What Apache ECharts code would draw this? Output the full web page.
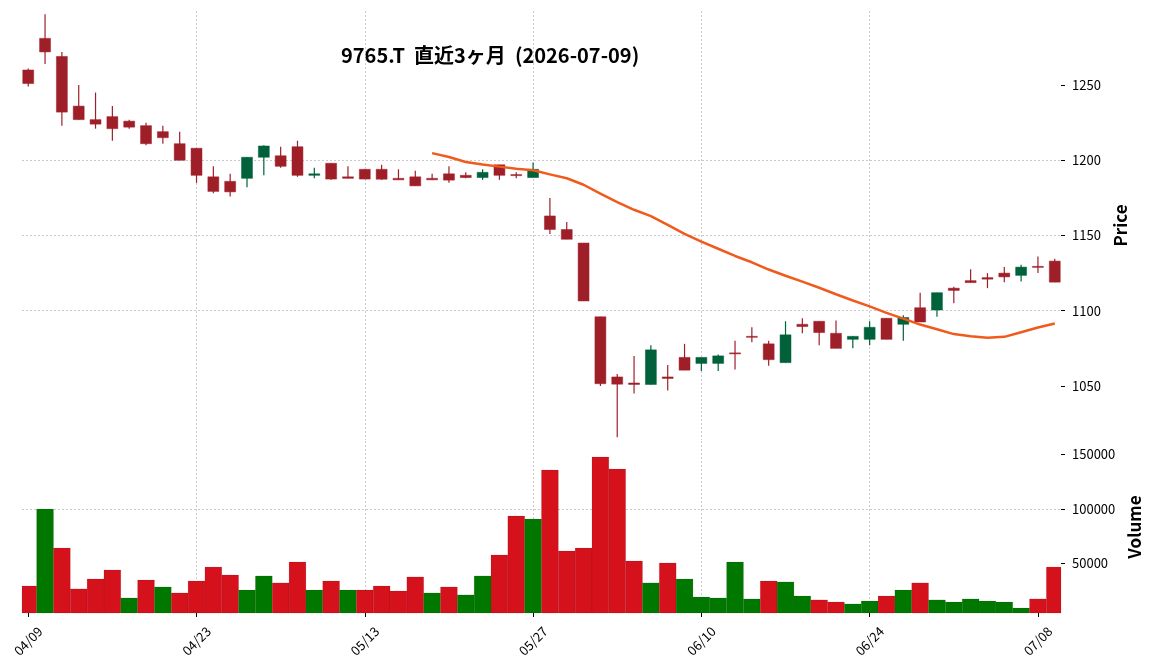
<!DOCTYPE html>
<html>
<head>
<meta charset="utf-8">
<script src="https://cdn.jsdelivr.net/npm/echarts@6/dist/echarts.min.js"></script>
<style>
  html, body { margin: 0; padding: 0; background: #fff; }
  #chart { width: 1152px; height: 670px; }
</style>
</head>
<body>
<div id="chart"></div>
<script>
// 9765.T 直近3ヶ月 日足
var dates = ['04/09','04/10','04/13','04/14','04/15','04/16','04/17','04/20','04/21','04/22',
  '04/23','04/24','04/27','04/28','04/30','05/01','05/07','05/08','05/11','05/12',
  '05/13','05/14','05/15','05/18','05/19','05/20','05/21','05/22','05/25','05/26',
  '05/27','05/28','05/29','06/01','06/02','06/03','06/04','06/05','06/08','06/09',
  '06/10','06/11','06/12','06/15','06/16','06/17','06/18','06/19','06/22','06/23',
  '06/24','06/25','06/26','06/29','06/30','07/01','07/02','07/03','07/06','07/07',
  '07/08','07/09'];
var opens = [1260,1281,1269,1236,1227,1229,1226,1223,1219,1211,
  1208,1189,1186,1188,1202,1203,1209,1190,1198,1189,
  1194,1194,1188,1189,1188,1191,1190,1188.5,1197,1190.5,
  1188.5,1163,1154,1145,1096,1056,1052,1051,1056,1069,
  1065,1065,1072,1083,1078,1065.5,1091,1093,1085,1081,
  1081,1095,1091,1102,1100.5,1115,1120,1122,1125,1123.5,
  1129.5,1133];
var highs = [1261,1297,1272,1250,1245,1236,1227,1225,1223,1219,
  1208,1196,1191,1202,1210,1209,1213,1195,1198,1196,
  1194,1197,1194,1193,1191,1196,1192,1194,1197,1192,
  1198.5,1175,1159,1145,1096,1058,1070,1077,1064,1078,
  1069,1071,1080,1089,1080,1093,1095,1093,1093.5,1083,
  1093,1095,1097,1112,1112,1116,1127.5,1125,1129,1130.5,
  1136,1134.5];
var lows = [1249,1264,1223,1227,1221,1213,1221,1210,1211,1200,
  1185,1178,1176,1182,1190,1195,1189,1188,1187,1188,
  1187.5,1187,1187,1183,1187,1185,1188,1187,1187,1188,
  1188.5,1151,1147.5,1106.5,1050,1016,1045,1051,1047,1060.5,
  1060,1060,1061,1079,1063.5,1065.5,1085,1077,1075,1075,
  1077,1081,1080,1092.5,1096,1105,1118.7,1115,1119,1119.5,
  1125,1119];
var closes = [1251,1272,1232,1227,1224,1221,1222,1211,1215,1200,
  1190,1179.3,1179,1202,1209.5,1196,1190,1191,1187.5,1188,
  1187.5,1187.4,1187,1183,1187,1186.8,1188.5,1192,1190,1189.8,
  1194,1154,1147.5,1106.5,1051.5,1051.2,1051,1074,1055,1060.5,
  1069,1070,1071.5,1082.5,1067.5,1084,1089.5,1085.5,1075,1083,
  1089,1081,1095.5,1092.5,1112,1113.5,1118.7,1121,1122.5,1129,
  1128.8,1119];
var volumes = [29200,99800,64100,26500,35600,43900,18200,34700,28300,22800,
  33800,46600,39300,25500,38400,32000,51200,25500,33800,25500,
  25500,29200,24600,37500,22800,28300,21000,38400,57600,93400,
  90700,135600,61300,64100,147600,136500,52100,32000,50300,35600,
  19100,18200,51200,17300,33800,32900,20000,16400,14500,12700,
  15400,20000,25500,32000,16400,14500,17300,15400,14500,9000,
  17300,46600];
var priceTicks = [1050, 1100, 1150, 1200, 1250];
var volumeTicks = [50000, 100000, 150000];
var dateTicks = [0, 10, 20, 30, 40, 50, 60];
var maDays = 25;

var UP = '#00613b', DOWN = '#9f1f29';
var VOL_UP = '#007800', VOL_DOWN = '#d5111c';
var gridLine = { color: '#bdbdbd', width: 0.8, type: [2, 2] };
var font = 'Noto Sans CJK JP';

var candleData = opens.map(function (o, i) { return [i, o, closes[i], lows[i], highs[i]]; });
// 出来高の色は前日終値との比較
var volData = volumes.map(function (v, i) {
  var up = i === 0 ? closes[0] >= opens[0] : closes[i] > closes[i - 1];
  return [i, v, up ? 1 : 0];
});
// 25日移動平均
var maData = [];
for (var i = maDays - 1; i < closes.length; i++) {
  var s = 0;
  for (var j = i - maDays + 1; j <= i; j++) s += closes[j];
  maData.push([i, s / maDays]);
}

var myChart = echarts.init(document.getElementById('chart'));

function renderCandle(params, api) {
  var x = api.value(0), o = api.value(1), c = api.value(2), l = api.value(3), h = api.value(4);
  var color = c >= o ? UP : DOWN;
  var pO = api.coord([x, o]), pC = api.coord([x, c]);
  var pL = api.coord([x, l]), pH = api.coord([x, h]);
  var w = api.size([1, 0])[0] * 0.65;
  var top = Math.min(pO[1], pC[1]);
  var bh = Math.max(Math.abs(pO[1] - pC[1]), 1);
  return {
    type: 'group',
    children: [
      { type: 'line', shape: { x1: pH[0], y1: pH[1], x2: pL[0], y2: pL[1] },
        style: { stroke: color, lineWidth: 1.2 } },
      { type: 'rect', shape: { x: pO[0] - w / 2, y: top, width: w, height: bh },
        style: { fill: color, stroke: color, lineWidth: 0.5 } }
    ]
  };
}

function renderVolume(params, api) {
  var x = api.value(0), v = api.value(1);
  var color = api.value(2) ? VOL_UP : VOL_DOWN;
  var p = api.coord([x, v]);
  var base = api.coord([x, 0]);
  var w = api.size([1, 0])[0];
  var rect = echarts.graphic.clipRectByRect(
    { x: p[0] - w / 2, y: p[1], width: w, height: base[1] - p[1] },
    { x: params.coordSys.x, y: params.coordSys.y, width: params.coordSys.width, height: params.coordSys.height }
  );
  return rect && {
    type: 'rect', shape: rect,
    style: { fill: color, stroke: 'rgba(0,0,0,0.15)', lineWidth: 0.6 }
  };
}

function plain(v) { return String(v); }

var splitLine = { show: true, showMinLine: false, showMaxLine: false, lineStyle: gridLine };
var tickStyle = { show: true, inside: false, length: 4, lineStyle: { color: '#000', width: 1 } };
var noLine = { show: false, onZero: false };

option = {
  animation: false,
  backgroundColor: '#fff',
  textStyle: { fontFamily: font },
  graphic: [{
    type: 'text', left: 341, top: 45,
    style: { text: '9765.T  直近3ヶ月  (2026-07-09)', font: 'bold 20px "Noto Sans CJK JP"', fill: '#000' }
  }],
  grid: [
    { left: 22, right: 91, top: 11, height: 429 },
    { left: 22, right: 91, top: 441, height: 172 }
  ],
  xAxis: [
    {
      type: 'value', gridIndex: 0, min: -0.37, max: 61.37,
      axisLine: noLine,
      axisTick: { show: false, customValues: dateTicks },
      axisLabel: { show: false, customValues: dateTicks },
      splitLine: splitLine
    },
    {
      type: 'value', gridIndex: 1, min: -0.37, max: 61.37, position: 'bottom',
      axisLine: noLine,
      axisTick: Object.assign({ customValues: dateTicks }, tickStyle),
      axisLabel: {
        customValues: dateTicks, rotate: 45, align: 'center', verticalAlign: 'middle', margin: 28,
        color: '#000', fontSize: 13, fontFamily: font,
        formatter: function (v) { return dates[Math.round(v)] || ''; }
      },
      splitLine: splitLine
    }
  ],
  yAxis: [
    {
      type: 'value', gridIndex: 0, position: 'right', min: 1014.1, max: 1299.2,
      name: 'Price', nameLocation: 'middle', nameRotate: 90, nameGap: 42,
      nameTextStyle: { color: '#000', fontSize: 17, fontWeight: 'bold', fontFamily: font },
      axisLine: noLine,
      axisTick: Object.assign({ customValues: priceTicks }, tickStyle),
      axisLabel: { customValues: priceTicks, formatter: plain, color: '#000', fontSize: 13, margin: 11, fontFamily: font },
      splitLine: splitLine
    },
    {
      type: 'value', gridIndex: 1, position: 'right', min: 4400, max: 162300,
      name: 'Volume', nameLocation: 'middle', nameRotate: 90, nameGap: 58,
      nameTextStyle: { color: '#000', fontSize: 17, fontWeight: 'bold', fontFamily: font },
      axisLine: noLine,
      axisTick: Object.assign({ customValues: volumeTicks }, tickStyle),
      axisLabel: { customValues: volumeTicks, formatter: plain, color: '#000', fontSize: 13, margin: 11, fontFamily: font },
      splitLine: splitLine
    }
  ],
  series: [
    {
      type: 'custom', name: 'candle', xAxisIndex: 0, yAxisIndex: 0,
      renderItem: renderCandle, data: candleData, encode: { x: 0, y: [1, 2, 3, 4] }, z: 2
    },
    {
      type: 'line', name: 'MA25', xAxisIndex: 0, yAxisIndex: 0, data: maData,
      showSymbol: false, smooth: false, z: 3,
      lineStyle: { color: '#f05a1c', width: 2.5 }, itemStyle: { color: '#f05a1c' }
    },
    {
      type: 'custom', name: 'volume', xAxisIndex: 1, yAxisIndex: 1,
      renderItem: renderVolume, data: volData, encode: { x: 0, y: 1 }, z: 2
    }
  ]
};

myChart.setOption(option);
</script>
</body>
</html>
